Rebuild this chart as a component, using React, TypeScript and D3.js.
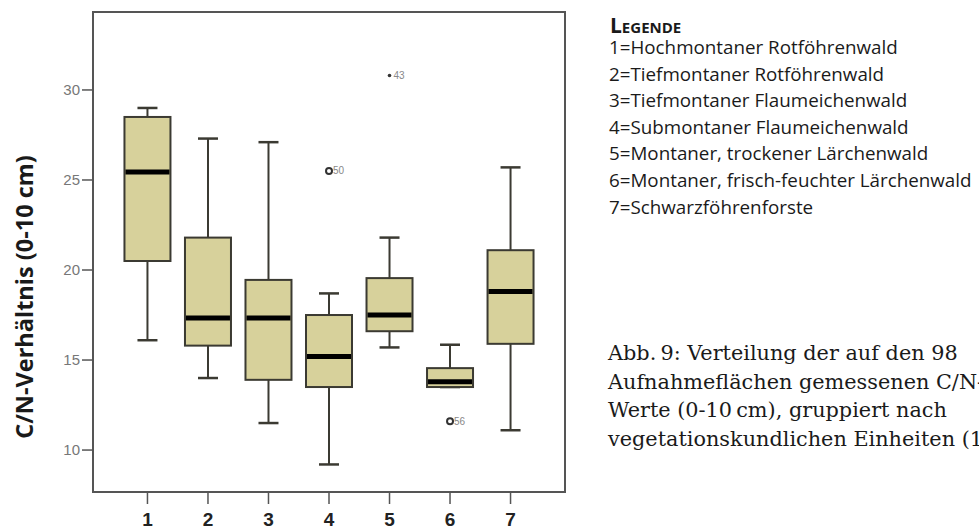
import * as d3 from 'd3'

// vegetation units 1..7
const groups = [1, 2, 3, 4, 5, 6, 7]
const whiskerLow = [16.1, 14.0, 11.5, 9.2, 15.7, 13.5, 11.1]
const q1 = [20.5, 15.8, 13.9, 13.5, 16.6, 13.5, 15.9]
const median = [25.45, 17.33, 17.33, 15.2, 17.5, 13.8, 18.8]
const q3 = [28.5, 21.8, 19.45, 17.5, 19.55, 14.55, 21.1]
const whiskerHigh = [29.0, 27.3, 27.1, 18.7, 21.8, 15.85, 25.7]

const outlierGroup = [4, 5, 6]
const outlierValue = [25.5, 30.8, 11.6]
const outlierLabel = ['50', '43', '56']
const outlierKind = ['circle', 'star', 'circle']

const yTicks = [10, 15, 20, 25, 30]

const legendTitle = 'Legende'
const legendItems = [
  '1=Hochmontaner Rotföhrenwald',
  '2=Tiefmontaner Rotföhrenwald',
  '3=Tiefmontaner Flaumeichenwald',
  '4=Submontaner Flaumeichenwald',
  '5=Montaner, trockener Lärchenwald',
  '6=Montaner, frisch-feuchter Lärchenwald',
  '7=Schwarzföhrenforste',
]
const captionLines = [
  'Abb.\u20099:  Verteilung der auf den 98',
  'Aufnahmeflächen gemessenen C/N-',
  'Werte (0-10\u2009cm), gruppiert nach',
  'vegetationskundlichen Einheiten (1-7)',
]

const width = 979, height = 531
const plot = { left: 93, right: 565, top: 12, bottom: 492 }

export default function App() {
  const x = d3.scaleLinear().domain([0.1, 7.9]).range([plot.left, plot.right])
  const y = d3.scaleLinear().domain([7.67, 34.33]).range([plot.bottom, plot.top])
  const boxW = 46
  const capW = 20
  const stroke = '#3b3a32'
  const axisColor = '#555'

  return (
    <svg width={width} height={height} style={{ position: 'absolute', left: 0, top: 0, background: '#fff' }}>
      {/* frame */}
      <rect x={plot.left} y={plot.top} width={plot.right - plot.left} height={plot.bottom - plot.top}
        fill="none" stroke={axisColor} strokeWidth={2} />

      {/* y axis ticks */}
      {yTicks.map(t => (
        <g key={t}>
          <line x1={plot.left - 11} x2={plot.left} y1={y(t)} y2={y(t)} stroke={axisColor} strokeWidth={1.5} />
          <text x={plot.left - 13} y={y(t)} dy="0.35em" textAnchor="end" fontFamily="Liberation Sans, Arial"
            fontSize={15} fill="#777">{t}</text>
        </g>
      ))}

      {/* x axis ticks */}
      {groups.map(g => (
        <g key={g}>
          <line x1={x(g)} x2={x(g)} y1={plot.bottom} y2={plot.bottom + 12} stroke={axisColor} strokeWidth={1.5} />
          <text x={x(g)} y={526} textAnchor="middle" fontFamily="Liberation Sans, Arial" fontWeight="bold"
            fontSize={19} fill="#222">{g}</text>
        </g>
      ))}

      {/* boxes */}
      {groups.map((g, i) => {
        const cx = x(g)
        return (
          <g key={g}>
            <line x1={cx} x2={cx} y1={y(q3[i])} y2={y(whiskerHigh[i])} stroke={stroke} strokeWidth={2} />
            <line x1={cx} x2={cx} y1={y(q1[i])} y2={y(whiskerLow[i])} stroke={stroke} strokeWidth={2} />
            <line x1={cx - capW / 2} x2={cx + capW / 2} y1={y(whiskerHigh[i])} y2={y(whiskerHigh[i])} stroke={stroke} strokeWidth={2.5} />
            <line x1={cx - capW / 2} x2={cx + capW / 2} y1={y(whiskerLow[i])} y2={y(whiskerLow[i])} stroke={stroke} strokeWidth={2.5} />
            <rect x={cx - boxW / 2} y={y(q3[i])} width={boxW} height={y(q1[i]) - y(q3[i])}
              fill="#d7d19b" stroke={stroke} strokeWidth={2} />
            <line x1={cx - boxW / 2 + 1} x2={cx + boxW / 2 - 1} y1={y(median[i])} y2={y(median[i])} stroke="#000" strokeWidth={5} />
          </g>
        )
      })}

      {/* outliers */}
      {outlierGroup.map((g, i) => {
        const cx = x(g), cy = y(outlierValue[i])
        return (
          <g key={i}>
            {outlierKind[i] === 'circle'
              ? <circle cx={cx} cy={cy} r={3} fill="none" stroke="#333" strokeWidth={2} />
              : <circle cx={cx} cy={cy} r={1.8} fill="#333" />}
            <text x={cx + 4} y={cy} dy="0.35em" fontFamily="Liberation Sans, Arial" fontSize={10} fill="#888">
              {outlierLabel[i]}
            </text>
          </g>
        )
      })}

      {/* y label */}
      <text transform="translate(33,297) rotate(-90)" textAnchor="middle" fontFamily="Open Sans"
        fontWeight="bold" fontSize={23.5} fill="#1a1a1a">C/N-Verhältnis (0-10 cm)</text>

      {/* legend */}
      <text x={610} y={33} fontFamily="Open Sans" fontWeight="bold" fontSize={21}
        style={{ fontVariant: 'small-caps' }} fill="#1a1a1a">{legendTitle}</text>
      {legendItems.map((t, i) => (
        <text key={t} x={609} y={54 + i * 26.6} fontFamily="Open Sans" fontSize={18.8} fill="#1a1a1a">{t}</text>
      ))}

      {/* caption */}
      {captionLines.map((t, i) => (
        <text key={t} x={608} y={360 + i * 28.5} fontFamily="DejaVu Serif" fontSize={20.8} fill="#1a1a1a">{t}</text>
      ))}
    </svg>
  )
}
